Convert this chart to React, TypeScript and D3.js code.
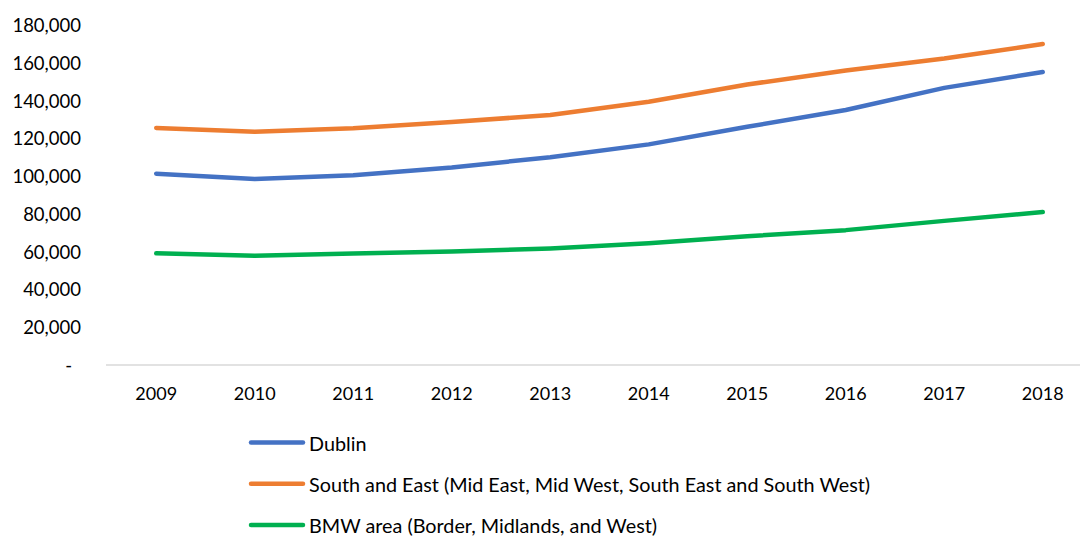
import React from "react";
import * as d3 from "d3";

const years = ["2009", "2010", "2011", "2012", "2013", "2014", "2015", "2016", "2017", "2018"];
const dublin = [101300, 98500, 100500, 104600, 110000, 116800, 126100, 135000, 146700, 155100];
const southEast = [125500, 123500, 125300, 128700, 132300, 139400, 148500, 155900, 162300, 169900];
const bmw = [59100, 57900, 59000, 60100, 61700, 64400, 68200, 71400, 76300, 81000];
const yTicks = [0, 20000, 40000, 60000, 80000, 100000, 120000, 140000, 160000, 180000];
const seriesNames = [
  "Dublin",
  "South and East (Mid East, Mid West, South East and South West)",
  "BMW area (Border, Midlands, and West)",
];
const seriesColors = ["#4472C4", "#ED7D31", "#00B050"];

export default function App() {
  const W = 1080;
  const H = 536;
  const font = "Lato, 'Open Sans', sans-serif";
  const x = d3.scaleBand().domain(years).range([107, 1092]);
  const y = d3.scaleLinear().domain([0, 180000]).range([365, 25]);
  const cx = (d: string) => (x(d) as number) + x.bandwidth() / 2;
  const line = d3
    .line<number>()
    .x((_, i) => cx(years[i]))
    .y((v) => y(v));
  const series = [dublin, southEast, bmw];
  const fmt = d3.format(",");
  return (
    <svg width={W} height={H} style={{ position: "absolute", left: 0, top: 0, background: "#fff" }}>
      <rect x={0} y={0} width={W} height={H} fill="#fff" />
      {yTicks.map((t) => (
        <text
          key={t}
          x={t === 0 ? 72 : 81}
          y={y(t)}
          textAnchor="end"
          dominantBaseline="central"
          fontFamily={font}
          fontSize={18.5}
          fill="#000"
        >
          {t === 0 ? "-" : fmt(t)}
        </text>
      ))}
      <line x1={106} x2={W} y1={y(0)} y2={y(0)} stroke="#D9D9D9" strokeWidth={1.5} />
      {years.map((yr) => (
        <text
          key={yr}
          x={cx(yr)}
          y={393}
          textAnchor="middle"
          dominantBaseline="central"
          fontFamily={font}
          fontSize={18}
          fill="#000"
        >
          {yr}
        </text>
      ))}
      {series.map((s, i) => (
        <path
          key={i}
          d={line(s) as string}
          fill="none"
          stroke={seriesColors[i]}
          strokeWidth={4.5}
          strokeLinecap="round"
          strokeLinejoin="round"
        />
      ))}
      {seriesNames.map((n, i) => {
        const ly = 442.5 + i * 41.2;
        return (
          <g key={n}>
            <line x1={251} x2={303} y1={ly} y2={ly} stroke={seriesColors[i]} strokeWidth={4.5} strokeLinecap="round" />
            <text x={309} y={ly} dominantBaseline="central" fontFamily={font} fontSize={19.8} fill="#000">
              {n}
            </text>
          </g>
        );
      })}
    </svg>
  );
}
